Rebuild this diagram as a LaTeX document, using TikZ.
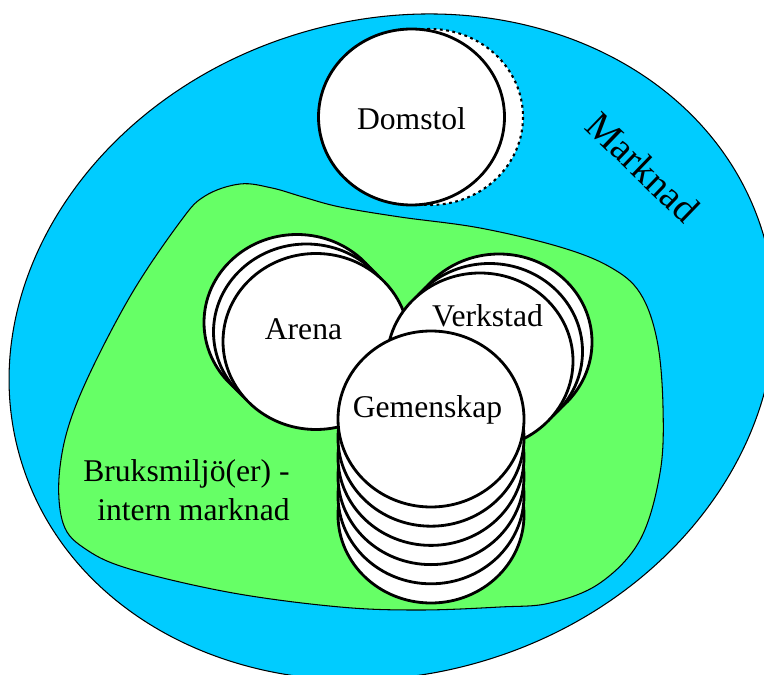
\documentclass[tikz,border=0pt]{standalone}
\usepackage{fontspec}
\setmainfont{Liberation Serif}
\usetikzlibrary{positioning}
\definecolor{marknadblue}{RGB}{0,204,255}
\definecolor{bruksgreen}{RGB}{102,255,102}
\tikzset{
        % Thin outlines of the two regions
        region/.style={draw=black, line width=0.6pt},
        % White discs
        disc/.style={draw=black, fill=white, line width=1.6pt},
        % Labels
        label_big/.style={inner sep=0pt, font=\fontsize{18}{22}\selectfont}
}
\begin{document}
\begin{tikzpicture}[x=0.02cm, y=-0.02cm]
            \path[use as bounding box] (0,0) rectangle (764,675);
            \clip (0,0) rectangle (764,675);
            % Marknad
            \draw[region, fill=marknadblue] (392,347) ellipse [x radius=388, y radius=327, rotate=17.5];
            % Bruksmiljö
            \draw[region, fill=bruksgreen] plot[smooth cycle, tension=0.6] coordinates {
                (240,184) (272,188) (303,197) (340,207) (400,217) (480,228) (560,247)
                (610,267) (640,293) (657,340) (663,407) (660,473) (640,540) (600,583)
                (550,603) (500,607) (420,610) (340,607) (233,593) (133,570) (87,550)
                (63,523) (60,467) (78,400) (128,300) (180,222) (205,196)
            };
            % Domstol
            \draw[disc, dotted, line width=1.2pt] (430,117) ellipse [x radius=93, y radius=88];
            \draw[disc] (411.5,117) ellipse [x radius=93, y radius=88];
            % Arena
            \foreach \k in {2,1,0}
                \draw[disc] ({316-9.5*\k},{341.5-9.5*\k}) ellipse [x radius=93, y radius=88];
            % Verkstad
            \foreach \k in {2,1,0}
                \draw[disc] ({480+9.5*\k},{361-9.5*\k}) ellipse [x radius=93, y radius=88];
            % Gemenskap
            \foreach \k in {5,4,...,0}
                \draw[disc] (431,{419+19.2*\k}) ellipse [x radius=93, y radius=88];

            \node[label_big, anchor=base] (domstol) at (411.5,130) {Domstol};
            \node[label_big, anchor=base] (arena) at (303.5,340) {Arena};
            \node[label_big, anchor=base] (verkstad) at (487.5,327) {Verkstad};
            \node[label_big, anchor=base] (gemenskap) at (427.5,418) {Gemenskap};
            \node[label_big, align=right, anchor=east] (bruks) at (290,490) {Bruksmiljö(er) -\\intern marknad};
            \node[label_big, font=\fontsize{22}{26}\selectfont, rotate=-44] (marknad) at (643,167) {Marknad};
\end{tikzpicture}
\end{document}
